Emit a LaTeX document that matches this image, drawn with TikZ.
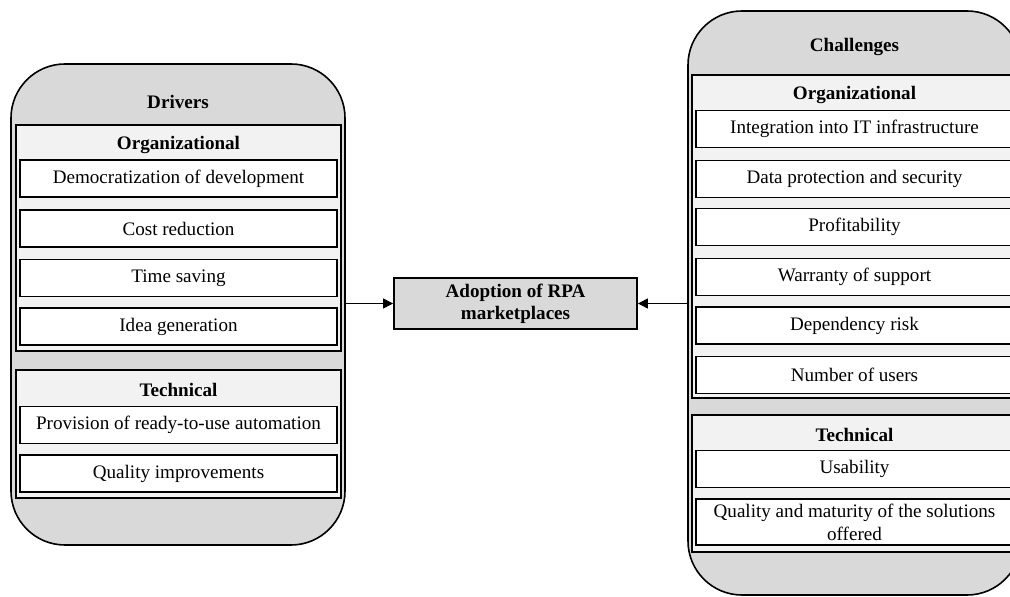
\documentclass[tikz,border=0pt]{standalone}
\usepackage{fontspec}
\setmainfont{Liberation Serif}
\usetikzlibrary{arrows.meta}
\definecolor{panelgray}{RGB}{217,217,217}
\definecolor{groupgray}{RGB}{242,242,242}
\tikzset{
  txt/.style={font=\fontsize{9.55}{11.5}\selectfont},
  panel/.style={draw=black, line width=0.8pt, fill=panelgray, rounded corners=27pt, inner sep=0pt},
  group/.style={draw=black, line width=0.9pt, fill=groupgray, inner sep=0pt, minimum width=162.5pt},
  item/.style={draw=black, line width=0.9pt, fill=white, inner sep=0pt, align=center, txt,
               minimum width=158.5pt, minimum height=18.5pt},
  head/.style={txt, font=\fontsize{9.55}{11.5}\selectfont\bfseries, inner sep=0pt},
  focus/.style={draw=black, line width=0.9pt, fill=panelgray, inner sep=0pt, align=center,
                font=\fontsize{9.55}{11}\selectfont\bfseries, minimum width=121.5pt, minimum height=25.5pt},
  arr/.style={draw=black, line width=0.5pt, -{Triangle[length=5pt,width=5pt]}}
}
\begin{document}
\begin{tikzpicture}[x=0.5pt,y=-0.5pt]
\useasboundingbox (0,0) rectangle (1010,597);
\clip (0,0) rectangle (1010,597);

% ---- Drivers panel ----
\node[panel, minimum width=167pt, minimum height=240.5pt] (lout) at (178,304.5) {};
\node[head] (drivers) at (178,102) {Drivers};
\node[group, minimum height=113pt] (lorg) at (178.5,238) {};
\node[head] (lorgt) at (178.5,145) {Organizational};
\node[item] (d1) at (178.5,178.5) {Democratization of development};
\node[item] (d2) at (178.5,228.5) {Cost reduction};
\node[item] (d3) at (178.5,278) {Time saving};
\node[item] (d4) at (178.5,326.5) {Idea generation};
\node[group, minimum height=64pt] (ltec) at (178.5,434) {};
\node[head] (ltect) at (178.5,390) {Technical};
\node[item] (d5) at (178.5,425) {Provision of ready-to-use automation};
\node[item] (d6) at (178.5,473.5) {Quality improvements};

% ---- Challenges panel ----
\node[panel, minimum width=166.5pt, minimum height=292pt] (rout) at (854.5,303) {};
\node[head] (chall) at (854.5,47) {Challenges};
\node[group, minimum height=161.5pt] (rorg) at (854.5,236.5) {};
\node[head] (rorgt) at (854.5,95) {Organizational};
\node[item] (c1) at (854.5,129) {Integration into IT infrastructure};
\node[item] (c2) at (854.5,179) {Data protection and security};
\node[item] (c3) at (854.5,227) {Profitability};
\node[item] (c4) at (854.5,277) {Warranty of support};
\node[item] (c5) at (854.5,325.5) {Dependency risk};
\node[item] (c6) at (854.5,375) {Number of users};
\node[group, minimum height=68.5pt] (rtec) at (854.5,483.5) {};
\node[head] (rtect) at (854.5,435) {Technical};
\node[item] (c7) at (854.5,469) {Usability};
\node[item, minimum height=23pt] (c8) at (854.5,522) {Quality and maturity of the solutions\\offered};

% ---- Central outcome ----
\node[focus] (adopt) at (515.5,303.5) {Adoption of RPA\\marketplaces};

\draw[arr] (lout.east |- adopt.west) -- (adopt.west);
\draw[arr] (rout.west |- adopt.east) -- (adopt.east);
\end{tikzpicture}
\end{document}
